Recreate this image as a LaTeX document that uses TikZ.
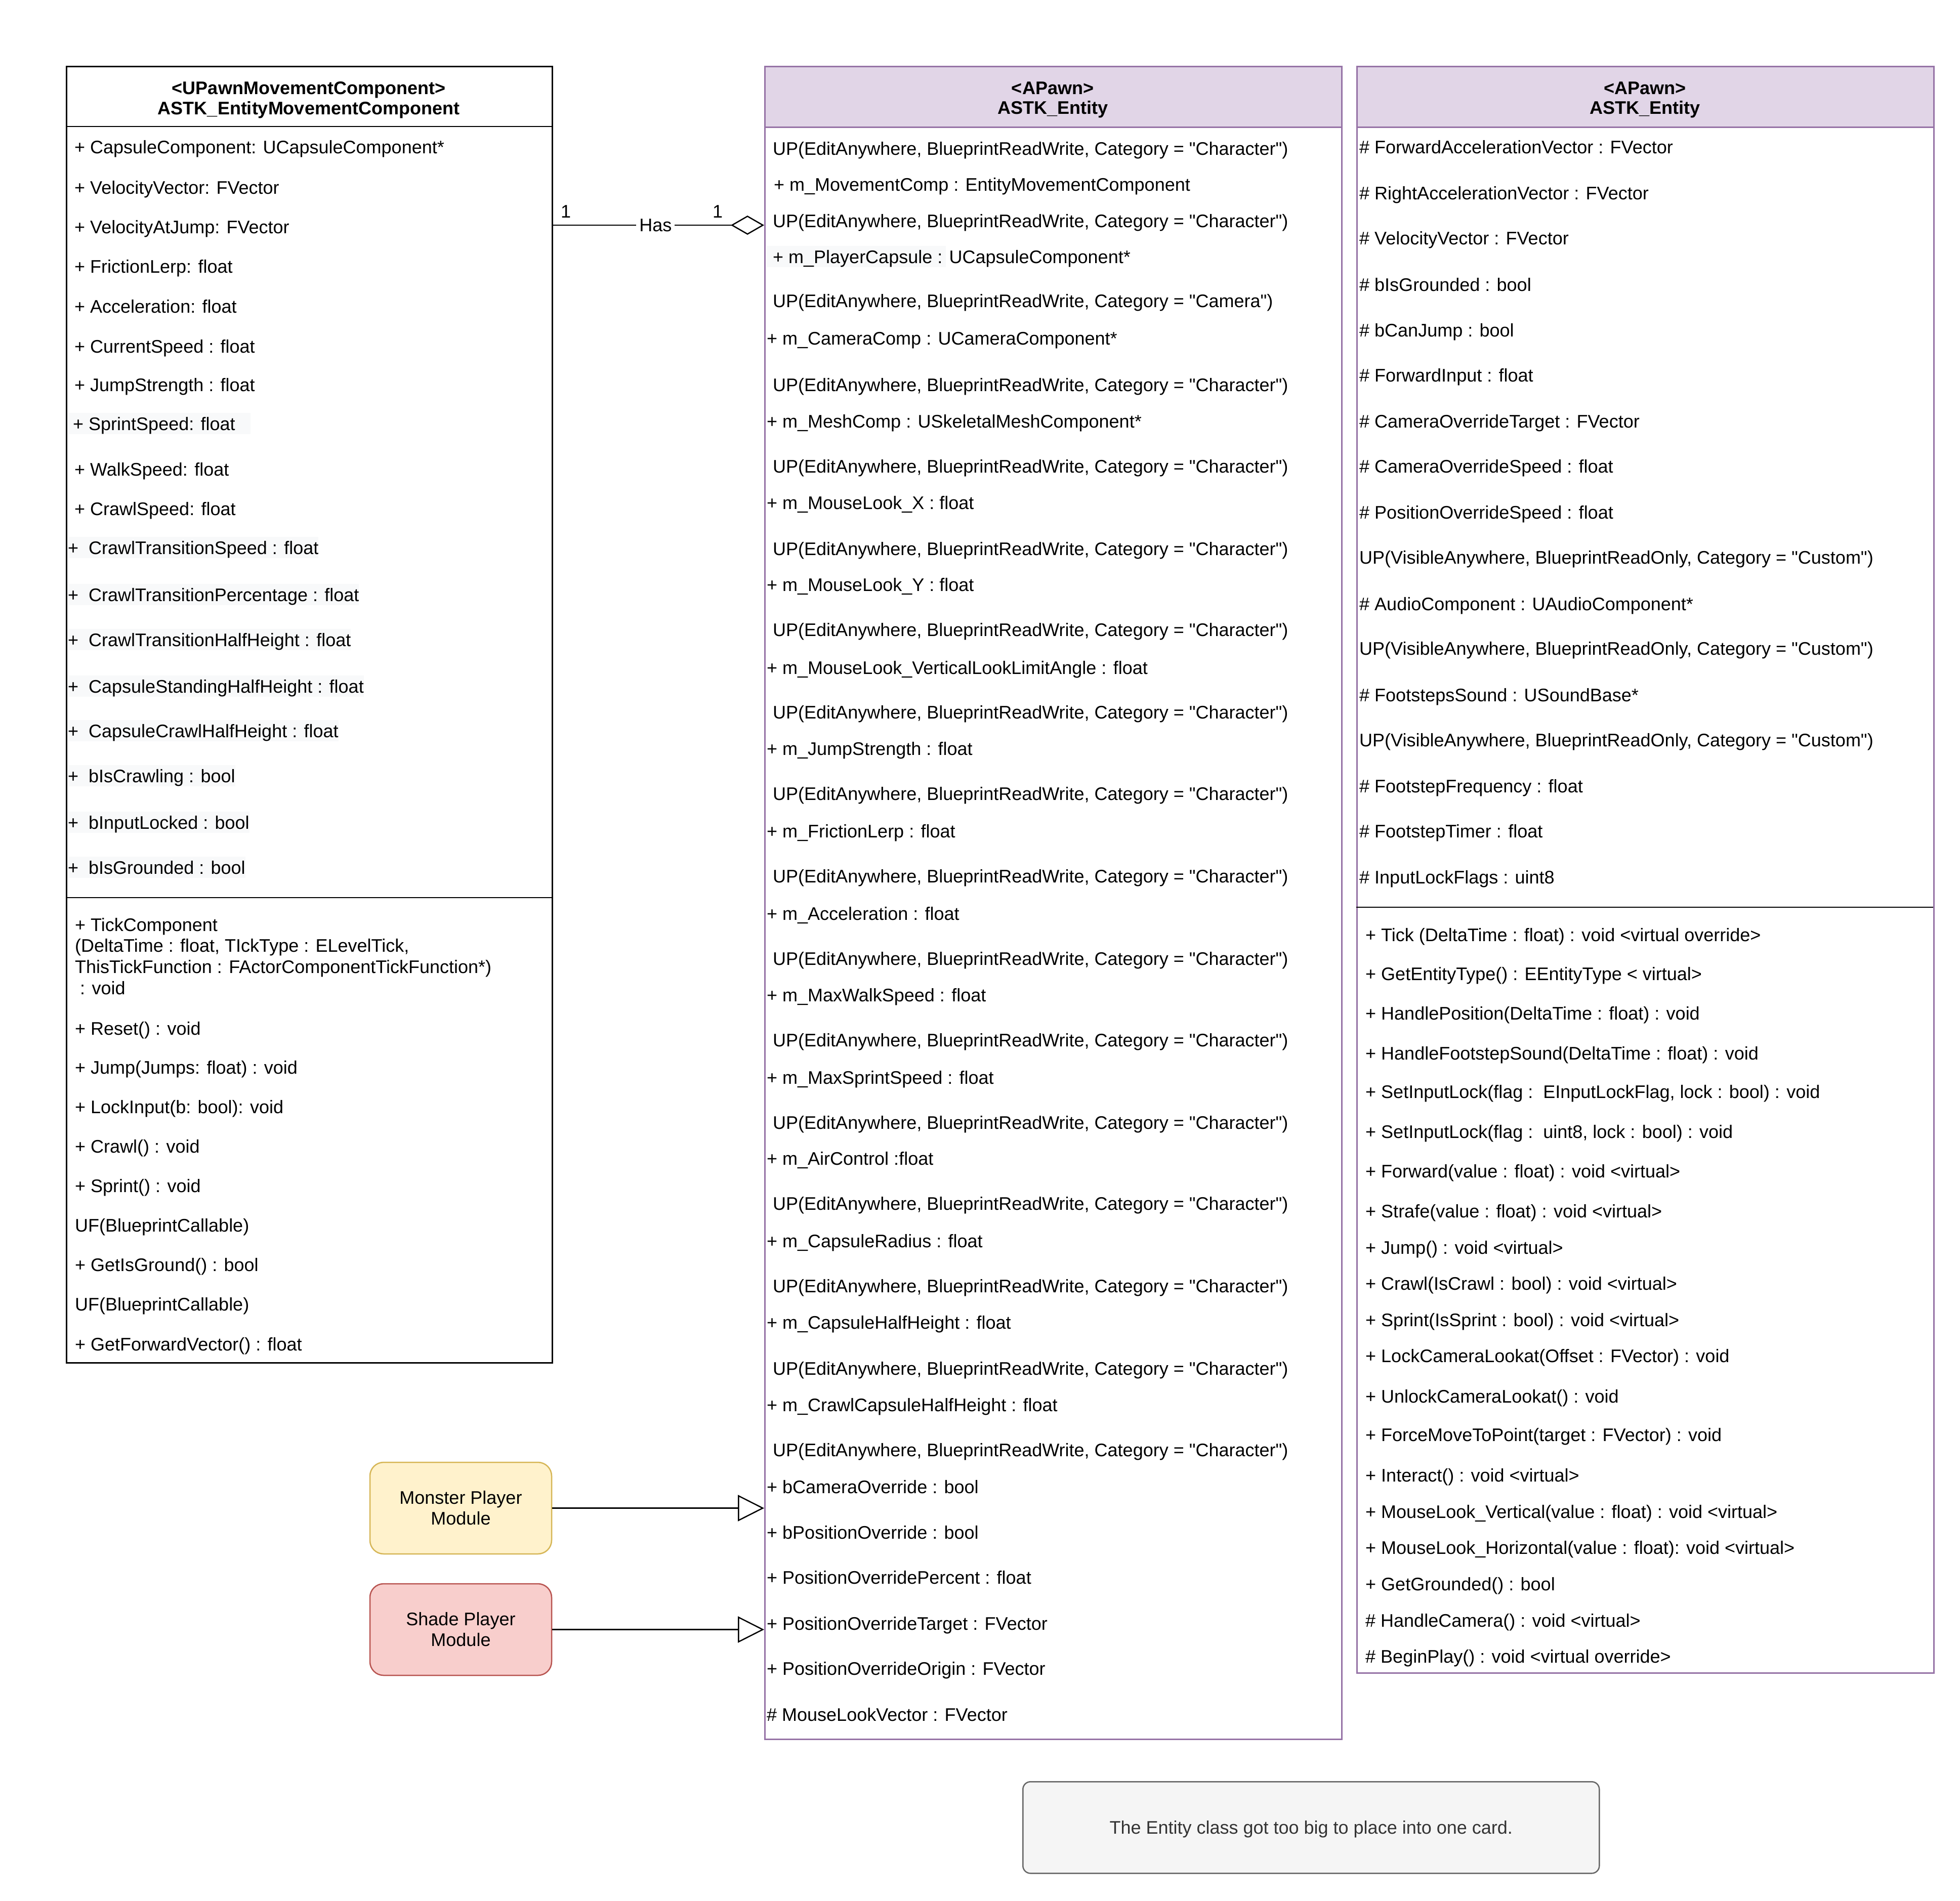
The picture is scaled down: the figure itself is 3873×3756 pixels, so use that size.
\documentclass[tikz,border=0pt]{standalone}
\usepackage{fontspec}
\setmainfont{Liberation Sans}[Ligatures=TeXOff]
\usetikzlibrary{arrows.meta}
\definecolor{purpline}{HTML}{9673A6}
\definecolor{purpfill}{HTML}{E1D5E7}
\definecolor{yelfill}{HTML}{FFF2CC}
\definecolor{yelline}{HTML}{D6B656}
\definecolor{redfill}{HTML}{F8CECC}
\definecolor{redline}{HTML}{B85450}
\definecolor{notefill}{HTML}{F5F5F5}
\definecolor{noteline}{HTML}{666666}
\definecolor{notetext}{HTML}{333333}
\definecolor{hlgray}{HTML}{F8F9FA}
\newcommand\fsz{\fontsize{36}{42}\selectfont}
\newcommand\dq{\symbol{34}}
\newcommand\UPchar{UP(EditAnywhere, BlueprintReadWrite, Category = \dq Character\dq)}
\newcommand\UPcam{UP(EditAnywhere, BlueprintReadWrite, Category = \dq Camera\dq)}
\newcommand\UPvis{UP(VisibleAnywhere, BlueprintReadOnly, Category = \dq Custom\dq)}
\begin{document}
\begin{tikzpicture}[x=1pt,y=-1pt,
  txt/.style={anchor=west, inner sep=0pt, font=\fsz, text height=34pt, text depth=8pt},
  hltxt/.style={txt, fill=hlgray},
  hdr/.style={anchor=center, inner sep=0pt, font=\fsz\bfseries, text height=34pt, text depth=8pt},
  box/.style={anchor=north west, inner sep=0pt, line width=2.5pt},
  conn/.style={line width=2.5pt, draw=black},
  module/.style={rounded corners=27pt, minimum width=359pt, minimum height=181pt, line width=2.5pt,
     align=center, inner sep=0pt, font=\fontsize{36}{41}\selectfont},
  mult/.style={inner sep=0pt, font=\fsz, text height=34pt, text depth=8pt},
  ]
\fill[white] (0,0) rectangle (3873,3756);
\useasboundingbox (0,0) rectangle (3873,3756);

% ---------- left class ----------
\node[box, draw=black, minimum width=960pt, minimum height=2562pt] (mov) at (130,130) {};
\draw[line width=2.5pt] (130,250) -- (1090,250);
\draw[line width=2.5pt] (130,1774) -- (1090,1774);
\node[hdr] (movs) at (610,173) {<UPawnMovementComponent>};
\node[hdr] (movn) at (610,213) {ASTK\_EntityMovementComponent};

\foreach \ry/\rt [count=\i] in {
290/{+ CapsuleComponent: UCapsuleComponent*},
370/{+ VelocityVector: FVector},
448/{+ VelocityAtJump: FVector},
526/{+ FrictionLerp: float},
605/{+ Acceleration: float},
684/{+ CurrentSpeed : float},
760/{+ JumpStrength : float},
927/{+ WalkSpeed: float},
1005/{+ CrawlSpeed: float}}
  \node[txt] (La\i) at (147,\ry) {\rt};
\node[hltxt] (Lsp) at (134,837) {\ + SprintSpeed: float\kern30pt};
\foreach \ry/\rt [count=\i] in {
1082/{CrawlTransitionSpeed : float},
1175/{CrawlTransitionPercentage : float},
1264/{CrawlTransitionHalfHeight : float},
1356/{CapsuleStandingHalfHeight : float},
1444/{CapsuleCrawlHalfHeight : float},
1533/{bIsCrawling : bool},
1625/{bInputLocked : bool},
1714/{bIsGrounded : bool}}
  \node[hltxt] (Lh\i) at (134,\ry) {+\ \ \rt};
\foreach \ry/\rt [count=\i] in {
1827/{+ TickComponent},
1868/{(DeltaTime : float, TIckType : ELevelTick,},
1910/{ThisTickFunction : FActorComponentTickFunction*)},
1952/{\ : void},
2032/{+ Reset() : void},
2109/{+ Jump(Jumps: float) : void},
2187/{+ LockInput(b: bool): void},
2265/{+ Crawl() : void},
2343/{+ Sprint() : void},
2421/{UF(BlueprintCallable)},
2499/{+ GetIsGround() : bool},
2577/{UF(BlueprintCallable)},
2656/{+ GetForwardVector() : float}}
  \node[txt] (Lm\i) at (148,\ry) {\rt};

% ---------- middle class ----------
\node[box, draw=purpline, fill=purpfill, minimum width=1140pt, minimum height=120pt] (ent1h) at (1510,130) {};
\node[box, draw=purpline, minimum width=1140pt, minimum height=3306pt] (ent1) at (1510,130) {};
\node[hdr] (ent1s) at (2080,173) {<APawn>};
\node[hdr] (ent1n) at (2080,212) {ASTK\_Entity};
\fill[hlgray] (1515,486) rectangle (1869,528);
\foreach \rx/\ry/\rt [count=\i] in {
1527/293/\UPchar,
1529/364/{+ m\_MovementComp : EntityMovementComponent},
1527/436/\UPchar,
1527/507/{+ m\_PlayerCapsule : UCapsuleComponent*},
1527/594/\UPcam,
1515/668/{+ m\_CameraComp : UCameraComponent*},
1527/760/\UPchar,
1515/832/{+ m\_MeshComp : USkeletalMeshComponent*},
1527/921/\UPchar,
1515/993/{+ m\_MouseLook\_X : float},
1527/1084/\UPchar,
1515/1155/{+ m\_MouseLook\_Y : float},
1527/1244/\UPchar,
1515/1319/{+ m\_MouseLook\_VerticalLookLimitAngle : float},
1527/1407/\UPchar,
1515/1479/{+ m\_JumpStrength : float},
1527/1568/\UPchar,
1515/1642/{+ m\_FrictionLerp : float},
1527/1731/\UPchar,
1515/1805/{+ m\_Acceleration : float},
1527/1894/\UPchar,
1515/1966/{+ m\_MaxWalkSpeed : float},
1527/2055/\UPchar,
1515/2129/{+ m\_MaxSprintSpeed : float},
1527/2218/\UPchar,
1515/2289/{+ m\_AirControl :float},
1527/2378/\UPchar,
1515/2452/{+ m\_CapsuleRadius : float},
1527/2541/\UPchar,
1515/2613/{+ m\_CapsuleHalfHeight : float},
1527/2704/\UPchar,
1515/2776/{+ m\_CrawlCapsuleHalfHeight : float},
1527/2865/\UPchar,
1515/2938/{+ bCameraOverride : bool},
1515/3028/{+ bPositionOverride : bool},
1515/3117/{+ PositionOverridePercent : float},
1515/3208/{+ PositionOverrideTarget : FVector},
1515/3297/{+ PositionOverrideOrigin : FVector},
1515/3388/{\# MouseLookVector : FVector}}
  \node[txt] (M\i) at (\rx,\ry) {\rt};

% ---------- right class ----------
\node[box, draw=purpline, fill=purpfill, minimum width=1140pt, minimum height=120pt] (ent2h) at (2680,130) {};
\node[box, draw=purpline, minimum width=1140pt, minimum height=3175pt] (ent2) at (2680,130) {};
\draw[line width=2.5pt] (2680,1793) -- (3820,1793);
\node[hdr] (ent2s) at (3250,173) {<APawn>};
\node[hdr] (ent2n) at (3250,212) {ASTK\_Entity};
\foreach \ry/\rt [count=\i] in {
290/{\# ForwardAccelerationVector : FVector},
381/{\# RightAccelerationVector : FVector},
470/{\# VelocityVector : FVector},
562/{\# bIsGrounded : bool},
652/{\# bCanJump : bool},
741/{\# ForwardInput : float},
832/{\# CameraOverrideTarget : FVector},
921/{\# CameraOverrideSpeed : float},
1012/{\# PositionOverrideSpeed : float},
1101/\UPvis,
1193/{\# AudioComponent : UAudioComponent*},
1281/\UPvis,
1373/{\# FootstepsSound : USoundBase*},
1462/\UPvis,
1553/{\# FootstepFrequency : float},
1642/{\# FootstepTimer : float},
1733/{\# InputLockFlags : uint8}}
  \node[txt] (Ra\i) at (2686,\ry) {\rt};
\foreach \ry/\rt [count=\i] in {
1847/{+ Tick (DeltaTime : float) : void <virtual override>},
1924/{+ GetEntityType() : EEntityType < virtual>},
2002/{+ HandlePosition(DeltaTime : float) : void},
2081/{+ HandleFootstepSound(DeltaTime : float) : void},
2157/{+ SetInputLock(flag :\ \ EInputLockFlag, lock : bool) : void},
2236/{+ SetInputLock(flag :\ \ uint8, lock : bool) : void},
2314/{+ Forward(value : float) : void <virtual>},
2393/{+ Strafe(value : float) : void <virtual>},
2465/{+ Jump() : void <virtual>},
2536/{+ Crawl(IsCrawl : bool) : void <virtual>},
2608/{+ Sprint(IsSprint : bool) : void <virtual>},
2679/{+ LockCameraLookat(Offset : FVector) : void},
2759/{+ UnlockCameraLookat() : void},
2835/{+ ForceMoveToPoint(target : FVector) : void},
2915/{+ Interact() : void <virtual>},
2987/{+ MouseLook\_Vertical(value : float) : void <virtual>},
3058/{+ MouseLook\_Horizontal(value : float): void <virtual>},
3130/{+ GetGrounded() : bool},
3202/{\# HandleCamera() : void <virtual>},
3273/{\# BeginPlay() : void <virtual override>}}
  \node[txt] (Rm\i) at (2698,\ry) {\rt};

% ---------- modules ----------
\node[module, fill=yelfill, draw=yelline] (monster) at (910.5,2980.5) {Monster Player\\Module};
\node[module, fill=redfill, draw=redline] (shade) at (910.5,3220.5) {Shade Player\\Module};

% ---------- note ----------
\node[anchor=north west, minimum width=1139pt, minimum height=181pt, rounded corners=15pt,
      fill=notefill, draw=noteline, line width=2.5pt, text=notetext, font=\fsz,
      text height=34pt, text depth=8pt] (note) at (2020,3520)
      {The Entity class got too big to place into one card.};

% ---------- connectors ----------
\coordinate (hasy) at (0,445);
\draw[conn, -{Diamond[fill=white, length=66pt, width=38pt]}] (mov.east |- hasy) --
   node[pos=0.486, fill=white, inner xsep=6pt, inner ysep=2pt, font=\fsz, text height=26pt, text depth=1pt] (haslbl) {Has}
   (ent1.west |- hasy);
\node[mult] (mulL) at (1118,417) {1};
\node[mult] (mulR) at (1418,417) {1};
\draw[conn, -{Triangle[fill=white, length=52pt, width=52pt]}] (monster.east) -- (ent1.west |- monster.east);
\draw[conn, -{Triangle[fill=white, length=52pt, width=52pt]}] (shade.east) -- (ent1.west |- shade.east);
\end{tikzpicture}
\end{document}
